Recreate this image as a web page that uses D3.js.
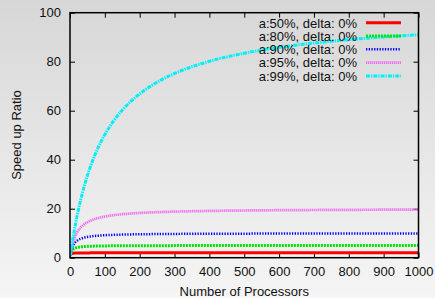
<!DOCTYPE html>
<html>
<head>
<meta charset="utf-8">
<script src="https://cdn.jsdelivr.net/npm/d3@7"></script>
<style>
  html, body { margin: 0; padding: 0; background: #e6e6e6; }
  svg { display: block; font-family: "Liberation Sans", Arial, sans-serif; }
</style>
</head>
<body>
<svg id="chart" width="435" height="298"></svg>
<script>
// processor counts sampled along the curves
var processors = [1, 2, 4, 6, 8, 10, 15, 20, 30, 40, 50, 60, 80, 100, 125, 150, 200, 250, 300, 400, 500, 600, 700, 800, 900, 1000];

// speed up ratio, one list per series
var speedup50 = [1, 1.33, 1.60, 1.71, 1.78, 1.82, 1.88, 1.90, 1.94, 1.95, 1.96, 1.97, 1.98, 1.98, 1.98, 1.99, 1.99, 1.99, 1.99, 2.00, 2.00, 2.00, 2.00, 2.00, 2.00, 2.00];
var speedup80 = [1, 1.67, 2.50, 3.00, 3.33, 3.57, 3.95, 4.17, 4.41, 4.55, 4.63, 4.69, 4.76, 4.81, 4.85, 4.87, 4.90, 4.92, 4.93, 4.95, 4.96, 4.97, 4.97, 4.98, 4.98, 4.98];
var speedup90 = [1, 1.82, 3.08, 4.00, 4.71, 5.26, 6.25, 6.90, 7.69, 8.16, 8.47, 8.70, 8.99, 9.17, 9.33, 9.43, 9.57, 9.65, 9.71, 9.78, 9.82, 9.85, 9.87, 9.89, 9.90, 9.91];
var speedup95 = [1, 1.90, 3.48, 4.80, 5.93, 6.90, 8.82, 10.26, 12.24, 13.56, 14.49, 15.19, 16.16, 16.81, 17.36, 17.75, 18.26, 18.59, 18.81, 19.09, 19.27, 19.39, 19.47, 19.54, 19.59, 19.63];
var speedup99 = [1, 1.98, 3.88, 5.71, 7.48, 9.17, 13.16, 16.81, 23.26, 28.78, 33.56, 37.74, 44.69, 50.25, 55.80, 60.24, 66.89, 71.63, 75.19, 80.16, 83.47, 85.84, 87.61, 88.99, 90.09, 90.99];

var seriesLabels = ["a:50%, delta: 0%", "a:80%, delta: 0%", "a:90%, delta: 0%", "a:95%, delta: 0%", "a:99%, delta: 0%"];
var xTicks = [0, 100, 200, 300, 400, 500, 600, 700, 800, 900, 1000];
var yTicks = [0, 20, 40, 60, 80, 100];

var seriesValues = [speedup50, speedup80, speedup90, speedup95, speedup99];
var seriesStyle = [
    {color: "#ff0000", width: 3, dash: null},
    {color: "#00e600", width: 3, dash: "2,1"},
    {color: "#0000ff", width: 2.5, dash: "1.3,1.4"},
    {color: "#f070f0", width: 2.7, dash: "1.3,0.7"},
    {color: "#00f0f8", width: 3, dash: "4,1,1.3,1"}
];

var svg = d3.select("#chart");
var W = 435, H = 298;
var mLeft = 70, mRight = 418.5, mTop = 12.7, mBottom = 257.7;

// background gradient
var grad = svg.append("defs").append("linearGradient")
    .attr("id", "bg").attr("x1", 0).attr("y1", 0).attr("x2", 0).attr("y2", 1);
grad.append("stop").attr("offset", "0%").attr("stop-color", "#d7d7d7");
grad.append("stop").attr("offset", "100%").attr("stop-color", "#f5f5f5");
svg.append("rect").attr("width", W).attr("height", H).attr("fill", "url(#bg)");

var x = d3.scaleLinear().domain([0, 1000]).range([mLeft, mRight]);
var y = d3.scaleLinear().domain([0, 100]).range([mBottom, mTop]);

// axes with inward ticks, mirrored on top and right
var tickLen = 5;
svg.append("g").attr("transform", "translate(0," + mBottom + ")")
    .call(d3.axisBottom(x).tickValues(xTicks).tickSize(-tickLen).tickPadding(9).tickFormat(d3.format("d")))
    .call(function(g) { g.select(".domain").remove(); });
svg.append("g").attr("transform", "translate(0," + mTop + ")")
    .call(d3.axisTop(x).tickValues(xTicks).tickSize(-tickLen).tickFormat(""))
    .call(function(g) { g.select(".domain").remove(); });
svg.append("g").attr("transform", "translate(" + mLeft + ",0)")
    .call(d3.axisLeft(y).tickValues(yTicks).tickSize(-tickLen).tickPadding(9).tickFormat(d3.format("d")))
    .call(function(g) { g.select(".domain").remove(); });
svg.append("g").attr("transform", "translate(" + mRight + ",0)")
    .call(d3.axisRight(y).tickValues(yTicks).tickSize(-tickLen).tickFormat(""))
    .call(function(g) { g.select(".domain").remove(); });

svg.selectAll(".tick line").attr("stroke", "#000").attr("stroke-width", 1);
svg.selectAll(".tick text").attr("font-size", 13).attr("fill", "#111")
    .attr("font-family", "'Liberation Sans', Arial, sans-serif");

// lines
var line = d3.line()
    .x(function(d) { return x(d[0]); })
    .y(function(d) { return y(d[1]); })
    .curve(d3.curveMonotoneX);

svg.append("clipPath").attr("id", "clip").append("rect")
    .attr("x", mLeft).attr("y", mTop).attr("width", mRight - mLeft).attr("height", mBottom - mTop);

var plot = svg.append("g").attr("clip-path", "url(#clip)");
seriesValues.forEach(function(vals, i) {
    var pts = processors.map(function(n, j) { return [n, vals[j]]; });
    plot.append("path")
        .datum(pts)
        .attr("d", line)
        .attr("fill", "none")
        .attr("stroke", seriesStyle[i].color)
        .attr("stroke-width", seriesStyle[i].width)
        .attr("stroke-dasharray", seriesStyle[i].dash);
});

// frame
svg.append("rect")
    .attr("x", mLeft).attr("y", mTop).attr("width", mRight - mLeft).attr("height", mBottom - mTop)
    .attr("fill", "none").attr("stroke", "#000").attr("stroke-width", 1.5);

// legend
var legend = svg.append("g");
seriesLabels.forEach(function(label, i) {
    var ly = 22.7 + i * 13.3;
    legend.append("text")
        .attr("x", 357).attr("y", ly + 4.8)
        .attr("text-anchor", "end")
        .attr("font-size", 13).attr("fill", "#111")
        .text(label);
    legend.append("line")
        .attr("x1", 366).attr("x2", 401).attr("y1", ly).attr("y2", ly)
        .attr("stroke", seriesStyle[i].color)
        .attr("stroke-width", seriesStyle[i].width)
        .attr("stroke-dasharray", seriesStyle[i].dash);
});

// axis titles
svg.append("text")
    .attr("x", (mLeft + mRight) / 2).attr("y", 296)
    .attr("text-anchor", "middle").attr("font-size", 13).attr("fill", "#111")
    .text("Number of Processors");
svg.append("text")
    .attr("transform", "translate(21," + 135 + ") rotate(-90)")
    .attr("text-anchor", "middle").attr("font-size", 13).attr("fill", "#111")
    .text("Speed up Ratio");
</script>
</body>
</html>
